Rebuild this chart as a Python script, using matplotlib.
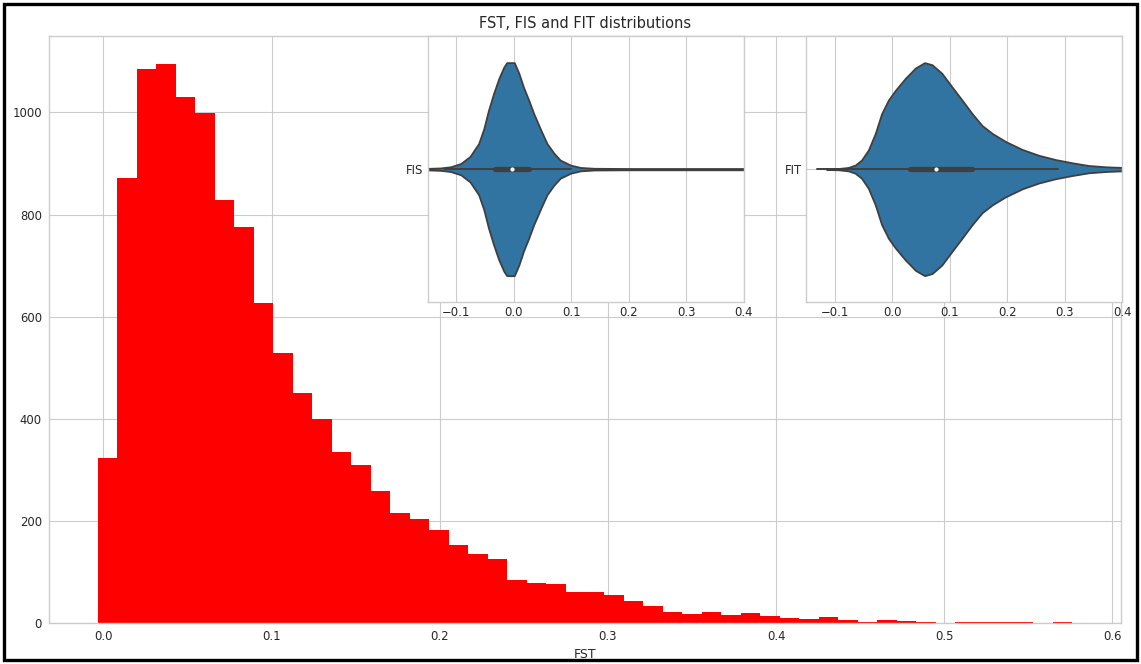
import matplotlib
matplotlib.use("Agg")
import matplotlib.pyplot as plt
from matplotlib.patches import Rectangle
import numpy as np

plt.style.use("seaborn-v0_8-whitegrid")
plt.rcParams["font.family"] = ["DejaVu Sans"]

# FST histogram: 50 bins, counts
FST_RANGE = (-0.0034, 0.5761)
fst_counts = [323, 872, 1085, 1095, 1031, 999, 829, 775, 626, 528,
              450, 400, 334, 309, 259, 215, 204, 182, 152, 135,
              125, 85, 79, 76, 60, 60, 55, 43, 33, 22,
              18, 22, 16, 20, 13, 10, 8, 11, 5, 2,
              6, 4, 2, 0, 2, 2, 2, 2, 0, 2]

# FIS violin: x positions and relative half-width (peak = 1)
fis_x = [-0.17, -0.151, -0.128, -0.11, -0.092, -0.076, -0.061, -0.052,
         -0.044, -0.035, -0.026, -0.017, -0.012, 0.001, 0.009, 0.017,
         0.026, 0.035, 0.047, 0.058, 0.07, 0.081, 0.099, 0.116, 0.14,
         0.2, 0.3, 0.42]
fis_w = [0.004, 0.007, 0.011, 0.022, 0.053, 0.12, 0.24, 0.38,
         0.55, 0.71, 0.85, 0.96, 1.0, 1.0, 0.9, 0.77,
         0.65, 0.52, 0.37, 0.24, 0.15, 0.085, 0.038, 0.016, 0.008,
         0.006, 0.006, 0.006]
fis_box = dict(q1=-0.032, med=-0.003, q3=0.026, lo=-0.12, hi=0.10)

# FIT violin
fit_x = [-0.115, -0.094, -0.077, -0.065, -0.054, -0.042, -0.03, -0.019,
         -0.007, 0.005, 0.022, 0.04, 0.056, 0.069, 0.086, 0.104, 0.121,
         0.139, 0.156, 0.174, 0.197, 0.226, 0.255, 0.284, 0.313, 0.342,
         0.372, 0.4, 0.42]
fit_w = [0.003, 0.006, 0.016, 0.038, 0.085, 0.18, 0.335, 0.52,
         0.65, 0.74, 0.85, 0.95, 1.0, 0.98, 0.9, 0.77, 0.65,
         0.52, 0.41, 0.335, 0.26, 0.185, 0.13, 0.09, 0.06, 0.034,
         0.022, 0.016, 0.014]
fit_box = dict(q1=0.031, med=0.075, q3=0.139, lo=-0.132, hi=0.288)

VIOLIN_COLOR = "#3274a1"
LINE_COLOR = "#3f3f3f"
TEXT_COLOR = "#262626"
TICK_SIZE = 8.4


def draw_violin(ax, xs, ws, box, name):
    half = np.array(ws) * 0.4
    ax.fill_between(xs, -half, half, facecolor=VIOLIN_COLOR,
                    edgecolor=LINE_COLOR, linewidth=1.3, zorder=2)
    ax.plot([box["lo"], box["hi"]], [0, 0], color=LINE_COLOR, lw=1.4, zorder=3)
    ax.plot([box["q1"], box["q3"]], [0, 0], color=LINE_COLOR, lw=3.8,
            solid_capstyle="round", zorder=4)
    ax.plot([box["med"]], [0], "o", color="white", ms=2.0, zorder=5)
    ax.set_xlim(-0.15, 0.4)
    ax.set_ylim(0.5, -0.5)
    ax.set_xticks([-0.1, 0.0, 0.1, 0.2, 0.3, 0.4])
    ax.set_yticks([0])
    ax.set_yticklabels([name])
    ax.tick_params(labelsize=TICK_SIZE, colors=TEXT_COLOR, length=0, pad=3)
    ax.set_facecolor("white")
    for sp in ax.spines.values():
        sp.set_color("#cccccc")


fig = plt.figure(figsize=(11.41, 6.64), dpi=100)
ax = fig.add_axes([49 / 1141, 1 - 623 / 664, 1072 / 1141, 587 / 664])

edges = np.linspace(FST_RANGE[0], FST_RANGE[1], len(fst_counts) + 1)
ax.hist(edges[:-1], bins=edges, weights=fst_counts, color="red")
ax.set_yticks([0, 200, 400, 600, 800, 1000])
ax.set_xlabel("FST", fontsize=9, color=TEXT_COLOR, labelpad=4)
ax.set_title("FST, FIS and FIT distributions", fontsize=10.5,
             color=TEXT_COLOR, pad=6)
ax.tick_params(labelsize=TICK_SIZE, colors=TEXT_COLOR, length=0, pad=5)
for sp in ax.spines.values():
    sp.set_color("#cccccc")

ax_fis = fig.add_axes([427.5 / 1141, 1 - 302.3 / 664, 316 / 1141, 266.3 / 664])
draw_violin(ax_fis, fis_x, fis_w, fis_box, "FIS")

ax_fit = fig.add_axes([806.4 / 1141, 1 - 302.3 / 664, 315.6 / 1141, 266.3 / 664])
draw_violin(ax_fit, fit_x, fit_w, fit_box, "FIT")

# black frame round the whole picture
fig.patches.append(Rectangle((4 / 1141, 4 / 664), 1133 / 1141, 656 / 664,
                             transform=fig.transFigure, fill=False,
                             edgecolor="black", linewidth=2.4))

fig.savefig("out.png", dpi=100)
